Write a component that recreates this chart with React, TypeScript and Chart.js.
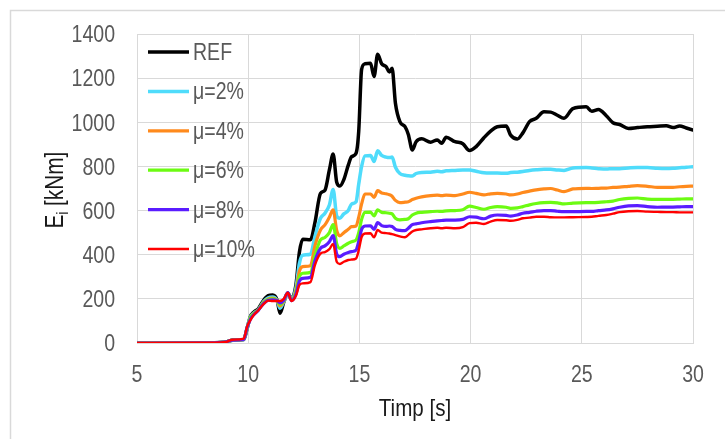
import React, { useEffect, useRef } from "react";
import { Chart, registerables } from "chart.js";

Chart.register(...registerables);

// Time axis [s]
const times = [
  5, 8.5, 9.0, 9.3, 9.8, 9.95, 10.1, 10.25, 10.45, 10.7, 10.9, 11.1, 11.3, 11.43, 11.6, 11.78, 11.95, 12.15,
  12.3, 12.45, 12.8, 13.0, 13.25, 13.45, 13.65, 13.82, 13.98, 14.12, 14.3, 14.5, 14.65, 14.85, 14.97, 15.1,
  15.25, 15.5, 15.66, 15.82, 16.0, 16.2, 16.35, 16.47, 16.62, 16.82, 17.05, 17.2, 17.38, 17.55, 17.8, 18.2,
  18.5, 18.7, 18.9, 19.3, 19.65, 19.95, 20.25, 20.6, 20.9, 21.2, 21.6, 21.8, 22.1, 22.35, 22.65, 22.95, 23.3,
  23.6, 23.9, 24.2, 24.6, 25.2, 25.45, 25.75, 26.1, 26.4, 26.7, 27.1, 27.5, 27.95, 28.4, 28.8, 29.1, 29.4,
  29.7, 30,
];

const refE = [
  0, 1, 5, 13, 16, 65, 120, 140, 155, 195, 215, 218, 195, 135, 185, 225, 200, 265,
  410, 470, 468, 545, 678, 692, 784, 856, 728, 711, 740, 806, 844, 860, 960, 1240,
  1265, 1267, 1207, 1308, 1265, 1252, 1228, 1245, 1086, 1003, 980, 945, 875, 912, 925, 910,
  920, 905, 932, 912, 903, 872, 890, 930, 960, 980, 983, 942, 924, 952, 1003, 1018, 1048,
  1046, 1032, 1018, 1062, 1070, 1050, 1058, 1030, 998, 990, 972, 976, 980, 982, 984, 976, 983,
  974, 965,
];

const mu2E = [
  0, 1, 5, 13, 16, 68, 118, 135, 150, 188, 205, 208, 192, 158, 188, 225, 198, 250,
  360, 398, 402, 482, 565, 588, 625, 695, 575, 565, 585, 600, 630, 640, 720, 800,
  848, 850, 822, 871, 850, 842, 840, 843, 796, 768, 760, 758, 757, 768, 773, 774,
  778, 776, 780, 782, 784, 784, 778, 771, 770, 770, 769, 772, 774, 777, 782, 785, 787,
  787, 784, 782, 793, 795, 793, 790, 788, 790, 790, 793, 795, 795, 792, 791, 792, 794,
  796, 799,
];

const mu4E = [
  0, 1, 5, 13, 16, 68, 116, 133, 150, 185, 200, 203, 192, 168, 190, 226, 196, 240,
  325, 346, 350, 440, 512, 535, 570, 603, 510, 485, 500, 515, 527, 530, 570, 630,
  675, 675, 660, 690, 680, 676, 672, 665, 646, 636, 638, 640, 650, 656, 662, 668,
  670, 668, 670, 668, 675, 683, 678, 671, 676, 678, 675, 671, 675, 682, 688, 694, 698,
  700, 693, 686, 698, 701, 700, 701, 702, 705, 706, 710, 713, 710, 705, 705, 705, 708,
  710, 711,
];

const mu6E = [
  0, 1, 5, 13, 16, 68, 115, 132, 150, 183, 197, 200, 192, 175, 192, 227, 194, 230,
  300, 316, 320, 395, 467, 478, 500, 537, 450, 429, 440, 452, 459, 467, 500, 560,
  592, 593, 576, 603, 592, 590, 588, 585, 565, 558, 560, 563, 580, 588, 592, 595,
  597, 596, 599, 600, 604, 620, 614, 606, 614, 618, 615, 610, 612, 618, 626, 632, 636,
  637, 635, 630, 634, 636, 636, 637, 640, 643, 650, 655, 657, 652, 651, 651, 651, 652,
  653, 653,
];

const mu8E = [
  0, 1, 5, 13, 16, 70, 108, 128, 148, 180, 194, 196, 192, 182, 194, 228, 192, 222,
  280, 293, 298, 372, 429, 440, 459, 487, 403, 391, 402, 410, 414, 421, 460, 515,
  530, 531, 515, 545, 532, 528, 530, 528, 515, 510, 509, 520, 536, 540, 545, 550,
  553, 555, 557, 557, 560, 572, 570, 563, 575, 580, 578, 575, 580, 588, 592, 597, 600,
  600, 597, 595, 595, 596, 596, 600, 603, 608, 615, 621, 622, 618, 615, 616, 616, 617,
  618, 618,
];

const mu10E = [
  0, 1, 5, 15, 20, 74, 104, 127, 147, 177, 192, 190, 190, 190, 200, 228, 190, 215,
  262, 270, 276, 353, 405, 412, 425, 449, 368, 358, 368, 376, 378, 383, 420, 480,
  496, 497, 479, 512, 500, 498, 496, 493, 489, 483, 479, 490, 505, 512, 515, 520,
  522, 520, 522, 520, 525, 543, 545, 539, 550, 557, 556, 554, 558, 565, 568, 572, 572,
  570, 569, 569, 570, 571, 572, 576, 580, 586, 593, 597, 598, 595, 594, 593, 593, 592,
  592, 592,
];

const seriesLabels = ["REF", "μ=2%", "μ=4%", "μ=6%", "μ=8%", "μ=10%"];
const seriesValues = [refE, mu2E, mu4E, mu6E, mu8E, mu10E];
const seriesColors = ["#000000", "#4fdcfb", "#ff8a1c", "#6cfb12", "#5a1cff", "#ff0000"];
const seriesWidths = [3.5, 3.5, 3.2, 3.2, 3.2, 2.4];

const xTicks = [5, 10, 15, 20, 25, 30];
const yTicks = [0, 200, 400, 600, 800, 1000, 1200, 1400];

const xTitle = "Timp [s]";
const yTitleMain = "E";
const yTitleSub = "i";
const yTitleRest = " [kNm]";

const FONT = '"Liberation Sans", Arial, sans-serif';
const TICK_COLOR = "#595959";
const GRID_COLOR = "#d9d9d9";
const SX = 0.85; // horizontal condensing of text

function drawText(ctx: CanvasRenderingContext2D, text: string, x: number, y: number, align: CanvasTextAlign, sx: number) {
  ctx.save();
  ctx.translate(x, y);
  ctx.scale(sx, 1);
  ctx.textAlign = align;
  ctx.textBaseline = "alphabetic";
  ctx.fillText(text, 0, 0);
  ctx.restore();
}

const decorPlugin = {
  id: "decor",
  beforeDraw(chart: any) {
    const ctx = chart.ctx;
    ctx.save();
    ctx.fillStyle = "#ffffff";
    ctx.fillRect(0, 0, chart.width, chart.height);
    ctx.strokeStyle = GRID_COLOR;
    ctx.lineWidth = 1.5;
    ctx.strokeRect(10.5, 10.5, 900, 900);
    ctx.restore();
  },
  afterDraw(chart: any) {
    const ctx: CanvasRenderingContext2D = chart.ctx;
    const area = chart.chartArea;
    const xs = chart.scales.x;
    const ys = chart.scales.y;
    ctx.save();
    // tick labels
    ctx.fillStyle = TICK_COLOR;
    ctx.font = `23px ${FONT}`;
    xTicks.forEach((v) => {
      drawText(ctx, String(v), xs.getPixelForValue(v), 381.5, "center", SX);
    });
    yTicks.forEach((v) => {
      drawText(ctx, String(v), 115, ys.getPixelForValue(v) + 8.3, "right", SX);
    });
    // legend inside the plot
    ctx.font = `23px ${FONT}`;
    chart.data.datasets.forEach((ds: any, i: number) => {
      const y = 52 + i * 39.4;
      ctx.strokeStyle = ds.borderColor;
      ctx.lineWidth = ds.borderWidth;
      ctx.lineCap = "butt";
      ctx.beginPath();
      ctx.moveTo(148, y);
      ctx.lineTo(189, y);
      ctx.stroke();
      ctx.fillStyle = TICK_COLOR;
      drawText(ctx, ds.label, 193, y + 8, "left", SX);
    });
    // x title
    ctx.fillStyle = "#1a1a1a";
    ctx.font = `24.5px ${FONT}`;
    drawText(ctx, xTitle, (area.left + area.right) / 2, 416, "center", 0.84);
    // y title rotated with subscript
    ctx.translate(63, 190);
    ctx.rotate(-Math.PI / 2);
    const ysx = 0.8;
    const mainFont = `26px ${FONT}`;
    const subFont = `16px ${FONT}`;
    ctx.font = mainFont;
    const w1 = ctx.measureText(yTitleMain).width * ysx;
    const w3 = ctx.measureText(yTitleRest).width * ysx;
    ctx.font = subFont;
    const w2 = ctx.measureText(yTitleSub).width * ysx;
    const total = w1 + w2 + w3;
    let x = -total / 2;
    ctx.font = mainFont;
    drawText(ctx, yTitleMain, x, 0, "left", ysx);
    x += w1;
    ctx.font = subFont;
    drawText(ctx, yTitleSub, x, 5, "left", ysx);
    x += w2;
    ctx.font = mainFont;
    drawText(ctx, yTitleRest, x, 0, "left", ysx);
    ctx.restore();
  },
};

export default function App() {
  const canvasRef = useRef<HTMLCanvasElement | null>(null);

  useEffect(() => {
    const canvas = canvasRef.current;
    if (!canvas) return;
    const datasets = seriesLabels.map((label, i) => ({
      label,
      data: times.map((t, k) => ({ x: t, y: seriesValues[i][k] })),
      borderColor: seriesColors[i],
      backgroundColor: seriesColors[i],
      borderWidth: seriesWidths[i],
      pointRadius: 0,
      cubicInterpolationMode: "monotone" as const,
      borderJoinStyle: "round" as const,
      borderCapStyle: "round" as const,
      order: seriesLabels.length - i,
      fill: false,
    }));
    const chart = new Chart(canvas, {
      type: "line",
      data: { datasets },
      options: {
        animation: false,
        responsive: false,
        maintainAspectRatio: false,
        devicePixelRatio: 1,
        layout: { padding: { top: 34, right: 32, left: 0, bottom: 0 } },
        plugins: {
          legend: { display: false },
          tooltip: { enabled: false },
          title: { display: false },
        },
        scales: {
          x: {
            type: "linear",
            min: 5,
            max: 30,
            afterBuildTicks: (s: any) => {
              s.ticks = xTicks.map((v) => ({ value: v }));
            },
            afterFit: (s: any) => {
              s.height = 96;
            },
            grid: { color: GRID_COLOR, lineWidth: 1, drawTicks: false },
            border: { color: GRID_COLOR, width: 1 },
            ticks: { display: false },
          },
          y: {
            type: "linear",
            min: 0,
            max: 1400,
            afterBuildTicks: (s: any) => {
              s.ticks = yTicks.map((v) => ({ value: v }));
            },
            afterFit: (s: any) => {
              s.width = 137;
            },
            grid: { color: GRID_COLOR, lineWidth: 1, drawTicks: false },
            border: { color: GRID_COLOR, width: 1 },
            ticks: { display: false },
          },
        },
      },
      plugins: [decorPlugin],
    });
    return () => chart.destroy();
  }, []);

  return (
    <div style={{ position: "fixed", left: 0, top: 0, width: 725, height: 439, overflow: "hidden", background: "#fff" }}>
      <canvas ref={canvasRef} width={725} height={439} style={{ width: 725, height: 439, display: "block" }} />
    </div>
  );
}
